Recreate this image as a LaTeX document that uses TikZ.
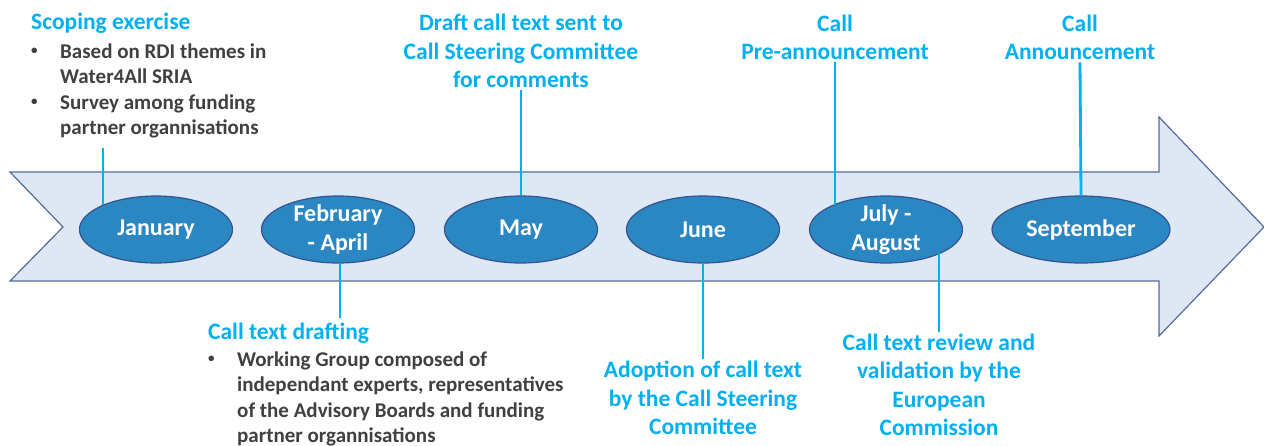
\documentclass[tikz,border=0pt]{standalone}
\usepackage{fontspec}
\setmainfont{Carlito}
\usepackage{tikz}
\usetikzlibrary{positioning,shapes.geometric}
\definecolor{cyanclaro}{rgb}{0.00, 0.69, 0.94}
\definecolor{grisoscuro}{rgb}{0.25, 0.25, 0.25}
\definecolor{azulmes}{rgb}{0.17, 0.53, 0.76}
\definecolor{azulborde}{rgb}{0.20, 0.33, 0.56}
\definecolor{azulflecha}{rgb}{0.87, 0.91, 0.96}
\definecolor{bordeflecha}{rgb}{0.33, 0.42, 0.60}
\newcommand\vineta{\raisebox{0.2em}{\fontsize{13}{13}\selectfont\textbullet}}
\tikzset{
  mes/.style={
    ellipse,
    draw=azulborde,
    line width=1.2pt,
    fill=azulmes,
    text=white,
    align=center,
    inner xsep=0pt,
    inner ysep=-12pt,
    minimum width=153pt,
    minimum height=67pt,
    font=\bfseries\fontsize{24}{29}\selectfont
  },
  titulo/.style={
    text=cyanclaro,
    align=center,
    inner sep=2pt,
    font=\bfseries\fontsize{23.5}{28.5}\selectfont
  },
  lista/.style={
    text=grisoscuro,
    inner sep=0pt,
    font=\bfseries\fontsize{21}{25.5}\selectfont
  },
  linea/.style={
    cyanclaro,
    line width=2.8pt
  }
}

\begin{document}
\begin{tikzpicture}[x=1pt, y=-1pt]
\useasboundingbox (0,0) rectangle (1264,445);

% flecha
\draw[draw=bordeflecha, fill=azulflecha, line width=1.2pt]
  (10,172) -- (1159,172) -- (1159,117) -- (1264,227) -- (1159,336)
  -- (1159,281) -- (10,281) -- (63,227) -- cycle;

% meses
\node[mes] (ene) at (156,229.5) {January};
\node[mes] (feb) at (338,229.5) {February\\- April};
\node[mes] (may) at (521,229.5) {May};
\node[mes] (jun) at (703,229.5) {June};
\node[mes] (jul) at (886,229.5) {July -\\August};
\node[mes, minimum width=178pt] (sep) at (1081,229.5) {September};

% textos
\node[titulo, anchor=west, inner sep=0pt] (scop) at (31,23) {Scoping exercise};
\node[lista, below=7pt of scop.south west, anchor=north west] (scopl) {%
  \begin{tabular}{@{}p{29pt}@{}l@{}}
  \vineta & Based on RDI themes in\\
          & Water4All SRIA\\
  \vineta & Survey among funding\\
          & partner organnisations
  \end{tabular}};
\node[titulo, anchor=west, inner sep=0pt] (draf) at (208,333) {Call text drafting};
\node[lista, below=5pt of draf.south west, anchor=north west] (drafl) {%
  \begin{tabular}{@{}p{29pt}@{}l@{}}
  \vineta & Working Group composed of\\
          & independant experts, representatives\\
          & of the Advisory Boards and funding\\
          & partner organnisations
  \end{tabular}};
\node[titulo] (draft) at (521,51) {Draft call text sent to\\Call Steering Committee\\for comments};
\node[titulo] (pre) at (835,37.5) {Call\\Pre-announcement};
\node[titulo] (ann) at (1080,37.5) {Call\\Announcement};
\node[titulo] (adop) at (703,398) {Adoption of call text\\by the Call Steering\\Committee};
\node[titulo] (rev) at (939,385) {Call text review and\\validation by the\\European\\Commission};

% lineas
\coordinate (scopfin) at (103,148);
\coordinate (febfin) at (340,318);
\draw[linea] (scopfin) -- (ene.155 -| scopfin);
\draw[linea] (draft.south) -- (may.north);
\draw[linea] (pre.south) -- (jul.155 -| pre.south);
\draw[linea] (ann.south) -- (sep.north);
\draw[linea] (feb.south -| febfin) -- (febfin);
\draw[linea] (jun.south) -- (adop.north);
\draw[linea] (jul.-23 -| rev.north) -- (rev.north);
\end{tikzpicture}
\end{document}
